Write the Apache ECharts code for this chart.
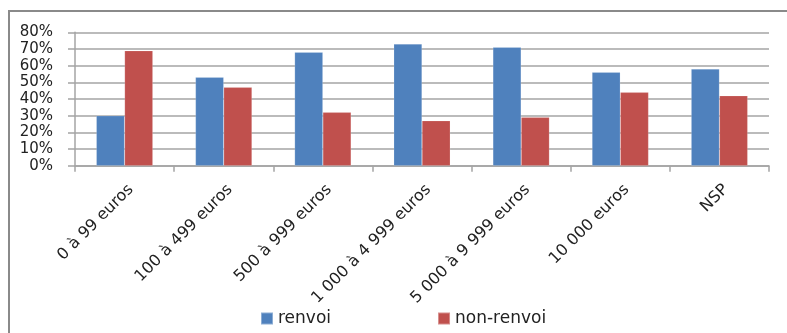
<!DOCTYPE html>
<html>
<head>
<meta charset="utf-8">
<script src="https://cdn.jsdelivr.net/npm/echarts@6/dist/echarts.min.js"></script>
<style>
  html, body { margin: 0; padding: 0; background: #fff; }
  #chart { width: 787px; height: 333px; }
</style>
</head>
<body>
<div id="chart"></div>
<script>
// Share of respondents by amount bracket
const categories = ['0 à 99 euros', '100 à 499 euros', '500 à 999 euros', '1 000 à 4 999 euros', '5 000 à 9 999 euros', '10 000 euros', 'NSP'];
const renvoi = [30, 53, 68, 73, 71, 56, 58];
const nonRenvoi = [69, 47, 32, 27, 29, 44, 42];
const yTicks = { min: 0, max: 80, step: 10 };

const chart = echarts.init(document.getElementById('chart'), null, { renderer: 'canvas' });
const textColor = '#222';
const gridColor = '#a4a4a4';

chart.setOption({
  animation: false,
  backgroundColor: '#fff',
  graphic: [{
    type: 'rect',
    shape: { x: 9, y: 11, width: 900, height: 400 },
    style: { fill: 'none', stroke: '#8a8a8a', lineWidth: 2 },
    silent: true
  }],
  grid: { left: 75, right: 18, top: 32.3, bottom: 167.3 },
  legend: {
    left: 255, top: 305,
    itemWidth: 12, itemHeight: 12, itemGap: 106,
    icon: 'rect',
    textStyle: { fontFamily: 'DejaVu Sans', fontSize: 17, color: textColor },
    data: ['renvoi', 'non-renvoi']
  },
  xAxis: {
    type: 'category',
    data: categories,
    axisLine: { lineStyle: { color: gridColor, width: 1.5 } },
    axisTick: { show: true, length: 6, lineStyle: { color: gridColor, width: 1.5 } },
    axisLabel: {
      rotate: 45, margin: 15, interval: 0,
      verticalAlign: 'top', padding: [1, 0, 0, 0],
      fontFamily: 'DejaVu Sans', fontSize: 16, color: textColor
    }
  },
  yAxis: {
    type: 'value',
    min: yTicks.min, max: yTicks.max, interval: yTicks.step,
    axisLine: { show: true, lineStyle: { color: gridColor, width: 1.5 } },
    axisTick: { show: true, length: 7, inside: false, lineStyle: { color: gridColor, width: 1.5 } },
    splitLine: { lineStyle: { color: gridColor, width: 1.5 } },
    axisLabel: {
      margin: 22,
      formatter: v => v + '%',
      fontFamily: 'DejaVu Sans', fontSize: 15, color: textColor
    }
  },
  series: [
    {
      name: 'renvoi', type: 'bar', data: renvoi,
      barGap: '0%', barCategoryGap: '43%',
      itemStyle: { color: '#4F81BD', borderColor: 'rgba(255,255,255,0.35)', borderWidth: 0.5 }
    },
    {
      name: 'non-renvoi', type: 'bar', data: nonRenvoi,
      barGap: '0%', barCategoryGap: '43%',
      itemStyle: { color: '#C0504D', borderColor: 'rgba(255,255,255,0.35)', borderWidth: 0.5 }
    }
  ]
});
</script>
</body>
</html>
